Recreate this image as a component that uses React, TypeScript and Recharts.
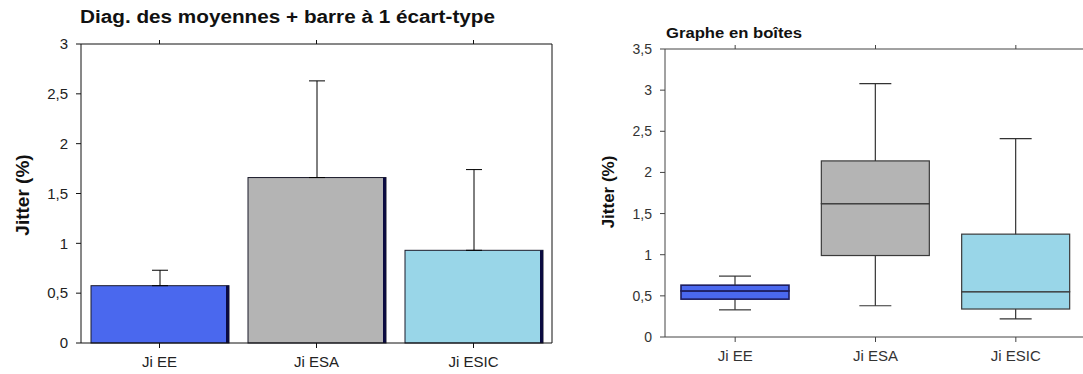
import React from 'react';
import { ComposedChart, Bar, XAxis, YAxis, ErrorBar } from 'recharts';

const categories = ['Ji EE', 'Ji ESA', 'Ji ESIC'];
const means = [0.575, 1.66, 0.93];
const stdDevs = [0.155, 0.97, 0.81];
const colors = ['#4a68ee', '#b4b4b4', '#99d6e8'];
const leftTicks = [0, 0.5, 1, 1.5, 2, 2.5, 3];
const rightTicks = [0, 0.5, 1, 1.5, 2, 2.5, 3, 3.5];

const whiskerLow = [0.33, 0.38, 0.22];
const q1 = [0.46, 0.99, 0.34];
const median = [0.56, 1.62, 0.55];
const q3 = [0.63, 2.14, 1.25];
const whiskerHigh = [0.74, 3.08, 2.41];

const meanData = categories.map((name, i) => ({
  name,
  mean: means[i],
  err: [0, stdDevs[i]],
}));

const boxData = categories.map((name, i) => ({
  name,
  base: whiskerLow[i],
  lowW: q1[i] - whiskerLow[i],
  boxLow: median[i] - q1[i],
  boxHigh: q3[i] - median[i],
  highW: whiskerHigh[i] - q3[i],
}));

const comma = (v: number) => String(v).replace('.', ',');
const FONT = '"Liberation Sans", Arial, sans-serif';

const MeanBarShape = (p: any) => {
  const { x, y, width, height, index } = p;
  return (
    <g>
      <rect x={x} y={y} width={width} height={height} fill={colors[index]} stroke="#1a1a2a" strokeWidth={1} />
      <rect x={x + width - 3} y={y} width={3} height={height} fill="#0b0b40" />
    </g>
  );
};

const boxStroke = (i: number) => (i === 0 ? '#1c1c5c' : '#3a3a3a');
const boxStrokeW = (i: number) => (i === 0 ? 1.6 : 1.2);

const BoxShape = (p: any) => {
  const { x, y, width, height, index } = p;
  return (
    <rect x={x} y={y} width={width} height={height} fill={colors[index]} stroke={boxStroke(index)} strokeWidth={boxStrokeW(index)} />
  );
};

const LowWhisker = (p: any) => {
  const { x, y, width, height } = p;
  const cx = x + width / 2;
  const by = y + height;
  return (
    <g stroke="#333" strokeWidth={1.2}>
      <line x1={cx} x2={cx} y1={y} y2={by} />
      <line x1={cx - 16} x2={cx + 16} y1={by} y2={by} />
    </g>
  );
};

const HighWhisker = (p: any) => {
  const { x, y, width, height } = p;
  const cx = x + width / 2;
  return (
    <g stroke="#333" strokeWidth={1.2}>
      <line x1={cx} x2={cx} y1={y} y2={y + height} />
      <line x1={cx - 16} x2={cx + 16} y1={y} y2={y} />
    </g>
  );
};

const Empty = () => <g />;

export default function App() {
  return (
    <div style={{ position: 'fixed', left: 0, top: 0, width: 1083, height: 374, overflow: 'hidden', background: '#fff' }}>
      <div style={{ position: 'absolute', left: 0, top: 0 }}>
        <ComposedChart width={560} height={374} data={meanData} margin={{ top: 34, right: 0, bottom: 0, left: 0 }}>
          <XAxis
            dataKey="name"
            height={31}
            tickSize={5}
            tickMargin={8}
            axisLine={{ stroke: '#111' }}
            tickLine={{ stroke: '#111' }}
            tick={{ fontSize: 15, fill: '#222', fontFamily: FONT }}
          />
          <XAxis
            xAxisId="top"
            orientation="top"
            dataKey="name"
            height={10}
            tickSize={4}
            axisLine={{ stroke: '#111' }}
            tickLine={{ stroke: '#111' }}
            tickFormatter={() => ''}
          />
          <YAxis
            domain={[0, 3]}
            ticks={leftTicks}
            width={81}
            tickSize={5}
            tickMargin={8}
            axisLine={{ stroke: '#111' }}
            tickLine={{ stroke: '#111' }}
            tickFormatter={comma}
            tick={{ fontSize: 15, fill: '#222', fontFamily: FONT }}
          />
          <YAxis
            yAxisId="right"
            orientation="right"
            domain={[0, 3]}
            ticks={leftTicks}
            width={8}
            tickSize={6}
            axisLine={{ stroke: '#111' }}
            tickLine={{ stroke: '#111' }}
            tickFormatter={() => ''}
          />
          <Bar dataKey="mean" barSize={138} isAnimationActive={false} shape={MeanBarShape}>
            <ErrorBar dataKey="err" width={8} stroke="#000" strokeWidth={1} direction="y" />
          </Bar>
          <Bar dataKey="mean" xAxisId="top" barSize={138} isAnimationActive={false} shape={Empty} />
        </ComposedChart>
      </div>
      <div style={{ position: 'absolute', left: 560, top: 0 }}>
        <ComposedChart width={526} height={374} data={boxData} margin={{ top: 39, right: 0, bottom: 0, left: 0 }}>
          <XAxis
            dataKey="name"
            height={37}
            tickSize={5}
            tickMargin={8}
            axisLine={{ stroke: '#444' }}
            tickLine={{ stroke: '#444' }}
            tick={{ fontSize: 15, fill: '#333', fontFamily: FONT }}
          />
          <XAxis
            xAxisId="top"
            orientation="top"
            dataKey="name"
            height={10}
            tickSize={4}
            axisLine={{ stroke: '#444' }}
            tickLine={{ stroke: '#444' }}
            tickFormatter={() => ''}
          />
          <YAxis
            domain={[0, 3.5]}
            ticks={rightTicks}
            width={105}
            tickSize={5}
            tickMargin={8}
            axisLine={{ stroke: '#444' }}
            tickLine={{ stroke: '#444' }}
            tickFormatter={comma}
            tick={{ fontSize: 14, fill: '#333', fontFamily: FONT }}
          />
          <Bar dataKey="base" stackId="b" barSize={108} isAnimationActive={false} shape={Empty} />
          <Bar dataKey="lowW" stackId="b" barSize={108} isAnimationActive={false} shape={LowWhisker} />
          <Bar dataKey="boxLow" stackId="b" barSize={108} isAnimationActive={false} shape={BoxShape} />
          <Bar dataKey="boxHigh" stackId="b" barSize={108} isAnimationActive={false} shape={BoxShape} />
          <Bar dataKey="highW" stackId="b" barSize={108} isAnimationActive={false} shape={HighWhisker} />
          <Bar dataKey="base" xAxisId="top" barSize={108} isAnimationActive={false} shape={Empty} />
        </ComposedChart>
      </div>
      <svg width={1083} height={374} style={{ position: 'absolute', left: 0, top: 0, pointerEvents: 'none' }}>
        <text x={80} y={23} fontFamily={FONT} fontWeight="bold" fontSize={18} fill="#111" textLength={415} lengthAdjust="spacingAndGlyphs">
          Diag. des moyennes + barre à 1 écart-type
        </text>
        <text x={666} y={38} fontFamily={FONT} fontWeight="bold" fontSize={14} fill="#111" textLength={136} lengthAdjust="spacingAndGlyphs">
          Graphe en boîtes
        </text>
        <text x={0} y={0} transform="translate(29,195) rotate(-90)" textAnchor="middle" fontFamily={FONT} fontWeight="bold" fontSize={19} fill="#111">
          Jitter (%)
        </text>
        <text x={0} y={0} transform="translate(614,192) rotate(-90)" textAnchor="middle" fontFamily={FONT} fontWeight="bold" fontSize={17} fill="#111">
          Jitter (%)
        </text>
      </svg>
    </div>
  );
}
